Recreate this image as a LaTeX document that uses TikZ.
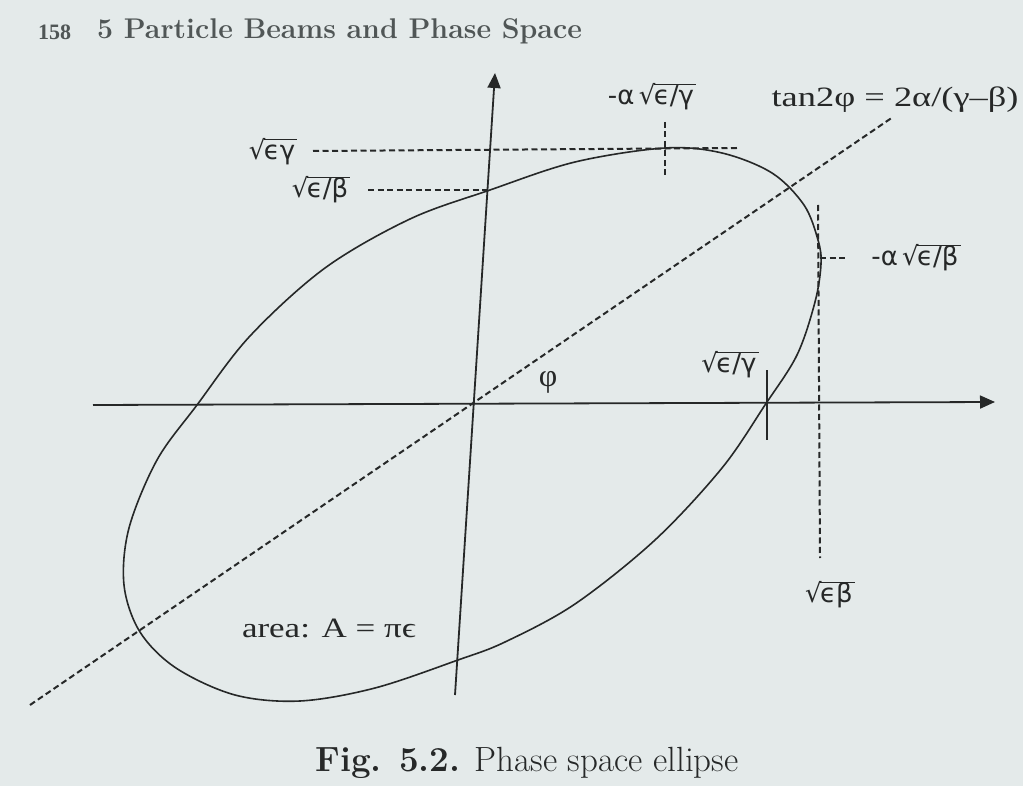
\documentclass[tikz,border=0pt]{standalone}
\usepackage{fontspec}
\usepackage{graphicx}
\newfontfamily\lib{Liberation Serif}
\newfontfamily\dvs{DejaVu Sans}
\usetikzlibrary{arrows.meta}
\definecolor{paper}{RGB}{228,234,234}
\definecolor{ink}{RGB}{38,40,40}
\definecolor{headink}{RGB}{80,86,86}
\newcommand{\myroot}[1]{\mbox{\sbox0{√}\sbox2{#1}\usebox0\kern-0.06em\rlap{\rule[\dimexpr\ht0-1.3pt\relax]{\dimexpr\wd2+0.08em\relax}{1.3pt}}\usebox2\kern0.08em}}
\tikzset{
  axisline/.style={draw=ink, line width=1.8pt, -{Triangle[length=15pt,width=13pt]}},
  plainline/.style={draw=ink, line width=1.8pt},
  guide/.style={draw=ink, line width=2pt, dash pattern=on 6pt off 3.5pt},
  curve/.style={draw=ink, line width=1.6pt},
  rootlbl/.style={text=ink, inner sep=0pt, font=\fontsize{26}{28}\selectfont\dvs},
  serlbl/.style={text=ink, inner sep=0pt, font=\fontsize{28}{30}\selectfont\lib},
}
\begin{document}
\begin{tikzpicture}[x=1pt,y=-1pt]
\fill[paper] (0,0) rectangle (1023,786);
\useasboundingbox (0,0) rectangle (1023,786);

% header
\node[text=headink, inner sep=0pt, anchor=west, font=\fontsize{22}{24}\selectfont\lib\bfseries] (pg) at (38,32) {158};
\node[text=headink, inner sep=0pt, anchor=west, font=\fontsize{28.5}{30}\selectfont\bfseries] (hd) at (97,31) {5 Particle Beams and Phase Space};

% coordinates
\coordinate (xl) at (93,405);
\coordinate (xr) at (995,402);
\coordinate (yb) at (455,695);
\coordinate (yt) at (495,73);
\coordinate (ml) at (30,705);
\coordinate (mr) at (893,117);
\coordinate (tk1) at (767,370);
\coordinate (tk2) at (767,440);
\coordinate (g1a) at (313,151);
\coordinate (g1b) at (737,148);
\coordinate (g2a) at (368,190);
\coordinate (g2b) at (491,190);
\coordinate (g3a) at (665,122);
\coordinate (g3b) at (665,176);
\coordinate (g4a) at (818,205);
\coordinate (g4b) at (820,558);
\coordinate (g5a) at (820,258);
\coordinate (g5b) at (846,258);

% ellipse
\draw[curve] plot[smooth cycle, tension=0.55] coordinates {
 (665,148) (722,153) (772,173) (804,205) (818,240) (821,264) (815,302) (797,355)
 (765,405) (722,468) (655,540) (575,604) (505,642) (458,660) (375,688) (300,701)
 (235,695) (176,668) (140,632) (124,585) (129,528) (157,460) (197,405) (250,336)
 (325,268) (410,219) (490,190) (575,162)};

% axes
\draw[axisline] (xl) -- (xr);
\draw[axisline] (yb) -- (yt);
\draw[plainline] (tk1) -- (tk2);

% dashed guides
\draw[guide] (ml) -- (mr);
\draw[guide] (g1a) -- (g1b);
\draw[guide] (g2a) -- (g2b);
\draw[guide] (g3a) -- (g3b);
\draw[guide] (g4a) -- (g4b);
\draw[guide] (g5a) -- (g5b);

% labels
\node[rootlbl] (leg) at (273,152) {\myroot{ϵγ}};
\node[rootlbl] (leb) at (321,190) {\myroot{ϵ/β}};
\node[rootlbl] (aeg) at (652,97) {-α\,\myroot{ϵ/γ}};
\node[serlbl] (tan) at (895,100) {\scalebox{1.3}[1]{tan2φ = 2α/(γ–β)}};
\node[rootlbl] (aeb) at (916,258) {-α\,\myroot{ϵ/β}};
\node[serlbl, font=\fontsize{32}{34}\selectfont\lib] (phi) at (548,382) {φ};
\node[rootlbl] (eg) at (730,365) {\myroot{ϵ/γ}};
\node[rootlbl] (eb) at (830,595) {\myroot{ϵβ}};
\node[serlbl] (area) at (329,628) {\scalebox{1.25}[1]{area: A = πϵ}};

% caption
\node[text=ink, inner sep=0pt, font=\fontsize{35}{37}\selectfont] (cap) at (527,763) {\textbf{Fig. 5.2.} Phase space ellipse};
\end{tikzpicture}
\end{document}
